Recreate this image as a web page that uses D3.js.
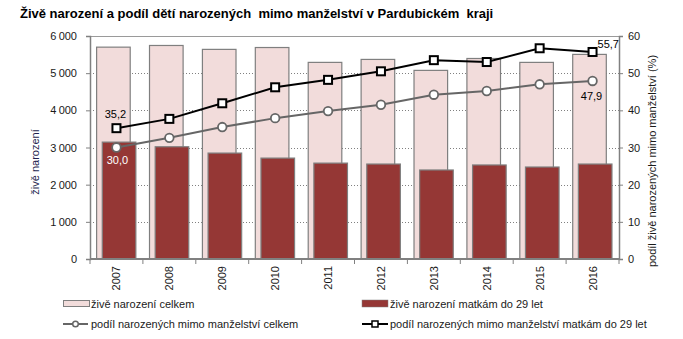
<!DOCTYPE html>
<html><head><meta charset="utf-8">
<script src="https://cdn.jsdelivr.net/npm/d3@7"></script>
<style>
body{margin:0;background:#fff;}
svg{display:block;font-family:"Liberation Sans",Arial,sans-serif;}
</style></head>
<body><div id="chart"></div>
<script>
const years = ["2007","2008","2009","2010","2011","2012","2013","2014","2015","2016"];
const birthsTotal = [5700, 5745, 5640, 5690, 5290, 5370, 5075, 5395, 5290, 5505];
const birthsUnder29 = [3145, 3020, 2850, 2715, 2580, 2555, 2395, 2530, 2475, 2555];
const shareTotal = [30.0, 32.6, 35.5, 37.9, 39.8, 41.5, 44.2, 45.2, 47.0, 47.9];
const shareUnder29 = [35.2, 37.7, 41.9, 46.2, 48.2, 50.5, 53.5, 53.0, 56.7, 55.7];
const leftTicks = [0,1000,2000,3000,4000,5000,6000];
const rightTicks = [0,10,20,30,40,50,60];
const title = "Živě narození a podíl dětí narozených  mimo manželství v Pardubickém  kraji";
const leftTitle = "živě narození";
const rightTitle = "podíl živě narozených mimo manželství (%)";
const legendLabels = ["živě narození celkem","živě narození matkám do 29 let","podíl narozených mimo manželství celkem","podíl narozených mimo manželství matkám do 29 let"];

const W=683,H=339;
const svg=d3.select("#chart").append("svg").attr("width",W).attr("height",H);
const L=90,R=619,T=36,B=259;
const x=d3.scaleBand().domain(years).range([L,R]).padding(0);
const yL=d3.scaleLinear().domain([0,6000]).range([B,T]);
const yR=d3.scaleLinear().domain([0,60]).range([B,T]);
const fmt=d=>d3.format(",")(d).replace(/,/g,"\u2009");
const comma=v=>v.toFixed(1).replace(".",",");

// title
svg.append("text").attr("x",20).attr("y",18).attr("font-size",13).attr("font-weight","bold").attr("fill","#000").style("white-space","pre").text(title);

// gridlines
svg.append("g").selectAll("line").data(leftTicks.filter(d=>d>0&&d<6000)).join("line")
  .attr("x1",L).attr("x2",R).attr("y1",d=>Math.round(yL(d))+0.5).attr("y2",d=>Math.round(yL(d))+0.5)
  .attr("stroke","#808080").attr("stroke-dasharray","1,2").attr("stroke-width",1);
svg.append("line").attr("x1",L).attr("x2",R).attr("y1",T+0.5).attr("y2",T+0.5).attr("stroke","#9a9a9a");

// bars
const bw=x.bandwidth()*0.635;
svg.append("g").selectAll("rect").data(years).join("rect")
  .attr("x",d=>x(d)+x.bandwidth()*0.125).attr("width",bw)
  .attr("y",(d,i)=>yL(birthsTotal[i])).attr("height",(d,i)=>B-yL(birthsTotal[i]))
  .attr("fill","#F2DCDB").attr("stroke","#7f7f7f").attr("stroke-width",1.2);
svg.append("g").selectAll("rect").data(years).join("rect")
  .attr("x",d=>x(d)+x.bandwidth()*0.232).attr("width",bw)
  .attr("y",(d,i)=>yL(birthsUnder29[i])).attr("height",(d,i)=>B-yL(birthsUnder29[i]))
  .attr("fill","#953735").attr("stroke","#7f7f7f").attr("stroke-width",1.2);

// axes
const axL=svg.append("g").attr("transform",`translate(${L},0)`)
  .call(d3.axisLeft(yL).tickValues(leftTicks).tickFormat(fmt).tickSize(4).tickPadding(9));
const axR=svg.append("g").attr("transform",`translate(${R},0)`)
  .call(d3.axisRight(yR).tickValues(rightTicks).tickSize(4).tickPadding(5));
[axL,axR].forEach(a=>{a.select(".domain").attr("stroke","#808080").attr("stroke-width",1.5);
  a.selectAll(".tick line").attr("stroke","#808080");
  a.selectAll("text").attr("font-size",11).attr("fill","#1a1a1a").attr("font-family","Liberation Sans, Arial, sans-serif");});

const axB=svg.append("g").attr("transform",`translate(0,${B})`);
axB.append("line").attr("x1",L).attr("x2",R).attr("y1",0).attr("y2",0).attr("stroke","#808080").attr("stroke-width",2);
axB.selectAll("line.t").data(years.concat(["_end"])).join("line").attr("class","t")
  .attr("x1",(d,i)=>L+i*x.step()).attr("x2",(d,i)=>L+i*x.step()).attr("y1",0).attr("y2",5).attr("stroke","#808080");
axB.selectAll("text").data(years).join("text")
  .attr("transform",d=>`translate(${x(d)+x.bandwidth()/2+4},7) rotate(-90)`)
  .attr("text-anchor","end").attr("font-size",11).attr("fill","#1a1a1a").text(d=>d);

// lines
const line=arr=>d3.line().x((d,i)=>x(years[i])+x.bandwidth()/2).y(d=>yR(d))(arr);
svg.append("path").attr("d",line(shareTotal)).attr("fill","none").attr("stroke","#666").attr("stroke-width",2);
svg.append("path").attr("d",line(shareUnder29)).attr("fill","none").attr("stroke","#000").attr("stroke-width",2);
svg.append("g").selectAll("circle").data(shareTotal).join("circle")
  .attr("cx",(d,i)=>x(years[i])+x.bandwidth()/2).attr("cy",d=>yR(d)).attr("r",4.3)
  .attr("fill","#fff").attr("stroke","#666").attr("stroke-width",1.8);
svg.append("g").selectAll("rect").data(shareUnder29).join("rect")
  .attr("x",(d,i)=>x(years[i])+x.bandwidth()/2-4).attr("y",d=>yR(d)-4).attr("width",8).attr("height",8)
  .attr("fill","#fff").attr("stroke","#000").attr("stroke-width",2);

// data labels
const cx=i=>x(years[i])+x.bandwidth()/2;
const lab=(t,xx,yy,fill,anchor)=>svg.append("text").attr("x",xx).attr("y",yy).attr("font-size",11).attr("fill",fill).attr("text-anchor",anchor||"middle").text(t);
lab(comma(shareUnder29[0]),cx(0)-1,yR(shareUnder29[0])-10,"#000");
lab(comma(shareTotal[0]),cx(0)+1,yR(shareTotal[0])+16,"#fff");
lab(comma(shareUnder29[9]),cx(9)+5,yR(shareUnder29[9])-4,"#000","start");
lab(comma(shareTotal[9]),cx(9)-1,yR(shareTotal[9])+19,"#000");

// axis titles
svg.append("text").attr("transform","translate(39,162) rotate(-90)").attr("text-anchor","middle").attr("font-size",11).attr("fill","#1f1f4f").text(leftTitle);
svg.append("text").attr("transform","translate(656,161) rotate(-90)").attr("text-anchor","middle").attr("font-size",11).attr("fill","#1a1a1a").text(rightTitle);

// legend
const lg=svg.append("g").attr("font-size",11).attr("fill","#1a1a1a");
lg.append("rect").attr("x",63.5).attr("y",300.5).attr("width",26).attr("height",6).attr("fill","#F2DCDB").attr("stroke","#7f7f7f");
lg.append("text").attr("x",91).attr("y",308).text(legendLabels[0]);
lg.append("rect").attr("x",362).attr("y",300).attr("width",26).attr("height",7).attr("fill","#953735").attr("stroke","#7f7f7f").attr("stroke-width",0.5);
lg.append("text").attr("x",390).attr("y",308).text(legendLabels[1]);
lg.append("line").attr("x1",63).attr("x2",88).attr("y1",324).attr("y2",324).attr("stroke","#666").attr("stroke-width",2);
lg.append("circle").attr("cx",75.5).attr("cy",324).attr("r",2.8).attr("fill","#fff").attr("stroke","#666").attr("stroke-width",1.5);
lg.append("text").attr("x",91).attr("y",328).text(legendLabels[2]);
lg.append("line").attr("x1",362).attr("x2",388).attr("y1",324).attr("y2",324).attr("stroke","#000").attr("stroke-width",2);
lg.append("rect").attr("x",372).attr("y",321).attr("width",6).attr("height",6).attr("fill","#fff").attr("stroke","#000").attr("stroke-width",1.5);
lg.append("text").attr("x",390).attr("y",328).text(legendLabels[3]);
</script></body></html>
